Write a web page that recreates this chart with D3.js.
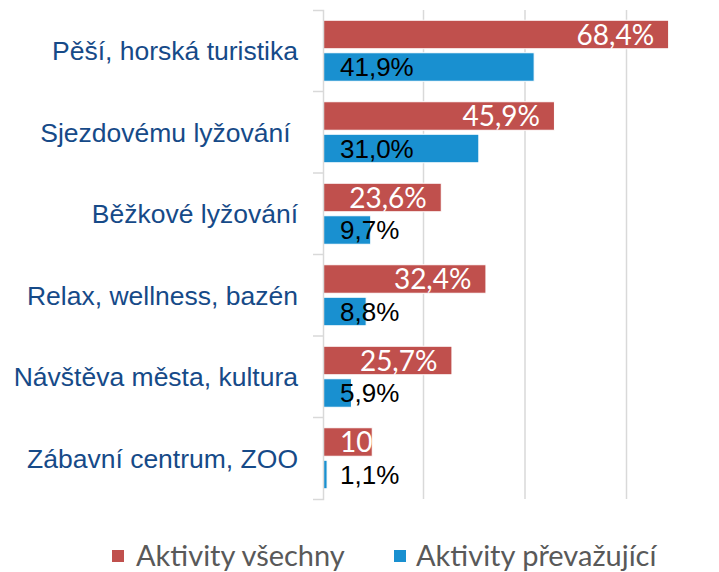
<!DOCTYPE html>
<html>
<head>
<meta charset="utf-8">
<script src="https://cdn.jsdelivr.net/npm/d3@7"></script>
<style>
  body { margin: 0; background: #fff; }
  svg { display: block; }
</style>
</head>
<body>
<svg></svg>
<script>
const categories = [
    'Pěší, horská turistika',
    'Sjezdovému lyžování ',
    'Běžkové lyžování',
    'Relax, wellness, bazén',
    'Návštěva města, kultura',
    'Zábavní centrum, ZOO'
];
const seriesNames = ['Aktivity všechny', 'Aktivity převažující'];
const valuesAll = [68.4, 45.9, 23.6, 32.4, 25.7, 10];
const valuesMain = [41.9, 31.0, 9.7, 8.8, 5.9, 1.1];
const labelsAll = ['68,4%', '45,9%', '23,6%', '32,4%', '25,7%', '10'];
const labelsMain = ['41,9%', '31,0%', '9,7%', '8,8%', '5,9%', '1,1%'];
const gridTicks = [20, 40, 60];

const WIDTH = 719;
const HEIGHT = 572;
const MARGIN = { top: 10, left: 321.5 };
const PLOT_HEIGHT = 489;
const AXIS_OFFSET = 1.5;
const COLORS = ['#C0504D', '#1990D0'];

const rows = categories.map((c, i) => ({
    name: c,
    values: [
        { key: 0, value: valuesAll[i], label: labelsAll[i] },
        { key: 1, value: valuesMain[i], label: labelsMain[i] }
    ]
}));

const x = d3.scaleLinear().domain([0, 80]).range([0, 80 * 5.075]);
const y = d3.scaleBand().domain(categories).range([0, PLOT_HEIGHT]);
const ySub = d3.scaleBand().domain([0, 1]).range([0, y.bandwidth()])
    .paddingInner(0.123).paddingOuter(0.315);

const svg = d3.select('svg')
    .attr('width', WIDTH)
    .attr('height', HEIGHT);

const chart = svg.append('g')
    .attr('transform', `translate(${MARGIN.left}, ${MARGIN.top})`);

// gridlines
chart.append('g')
    .call(d3.axisBottom(x).tickValues(gridTicks).tickSize(PLOT_HEIGHT).tickFormat(''))
    .call(g => g.select('.domain').remove())
    .selectAll('line')
    .attr('stroke', '#D9D9D9')
    .attr('stroke-width', 1.5);

const groups = chart.selectAll('.cat')
    .data(rows)
    .enter()
    .append('g')
    .attr('transform', d => `translate(0, ${y(d.name)})`);

groups.selectAll('rect')
    .data(d => d.values)
    .enter()
    .append('rect')
    .attr('x', x(0) + AXIS_OFFSET)
    .attr('y', d => ySub(d.key))
    .attr('width', d => Math.max(0, x(d.value) - x(0) - AXIS_OFFSET))
    .attr('height', ySub.bandwidth())
    .attr('fill', d => COLORS[d.key])
    .attr('stroke', '#fff')
    .attr('stroke-width', 1);

// labels for "všechny" (white, inside end)
groups.append('text')
    .text(d => d.values[0].label)
    .attr('y', ySub(0) + ySub.bandwidth() / 2)
    .attr('dy', '0.36em')
    .attr('text-anchor', 'end')
    .attr('font-family', 'Lato, sans-serif')
    .attr('font-size', 28)
    .attr('fill', '#fff')
    .attr('x', function (d) {
        const w = this.getComputedTextLength();
        return Math.max(x(d.values[0].value) - 14.5, 18.5 + w);
    });

// labels for "převažující" (black, inside base)
groups.append('text')
    .text(d => d.values[1].label)
    .attr('x', 18.5)
    .attr('y', ySub(1) + ySub.bandwidth() / 2)
    .attr('dy', '0.36em')
    .attr('font-family', 'Liberation Sans, Arial, sans-serif')
    .attr('font-size', 26)
    .attr('fill', '#000');

// category axis
const yAxis = chart.append('g')
    .attr('transform', `translate(${x(0) + AXIS_OFFSET}, 0)`)
    .call(d3.axisLeft(y).tickSize(0).tickSizeOuter(10).tickPadding(25));
yAxis.select('.domain')
    .attr('stroke', '#D9D9D9')
    .attr('stroke-width', 1.5);
yAxis.selectAll('text')
    .attr('font-family', 'Liberation Sans, Arial, sans-serif')
    .attr('font-size', 26.5)
    .attr('fill', '#164A88')
    .attr('dy', '0.36em')
    .style('white-space', 'pre');

yAxis.selectAll('.btick')
    .data(categories.slice(1))
    .enter()
    .append('line')
    .attr('x1', -10)
    .attr('x2', 0)
    .attr('y1', d => y(d))
    .attr('y2', d => y(d))
    .attr('stroke', '#D9D9D9')
    .attr('stroke-width', 1.5);

// legend
const legend = svg.append('g')
    .attr('transform', 'translate(112, 556)');
const items = legend.selectAll('g')
    .data(seriesNames)
    .enter()
    .append('g')
    .attr('transform', (d, i) => `translate(${i * 282}, 0)`);
items.append('rect')
    .attr('x', 0)
    .attr('y', -6)
    .attr('width', 12)
    .attr('height', 12)
    .attr('fill', (d, i) => COLORS[i]);
items.append('text')
    .text(d => d)
    .attr('x', (d, i) => i === 0 ? 24 : 22)
    .attr('dy', '0.36em')
    .attr('font-family', 'Lato, sans-serif')
    .attr('font-size', 29)
    .attr('fill', '#595959');
</script>
</body>
</html>
